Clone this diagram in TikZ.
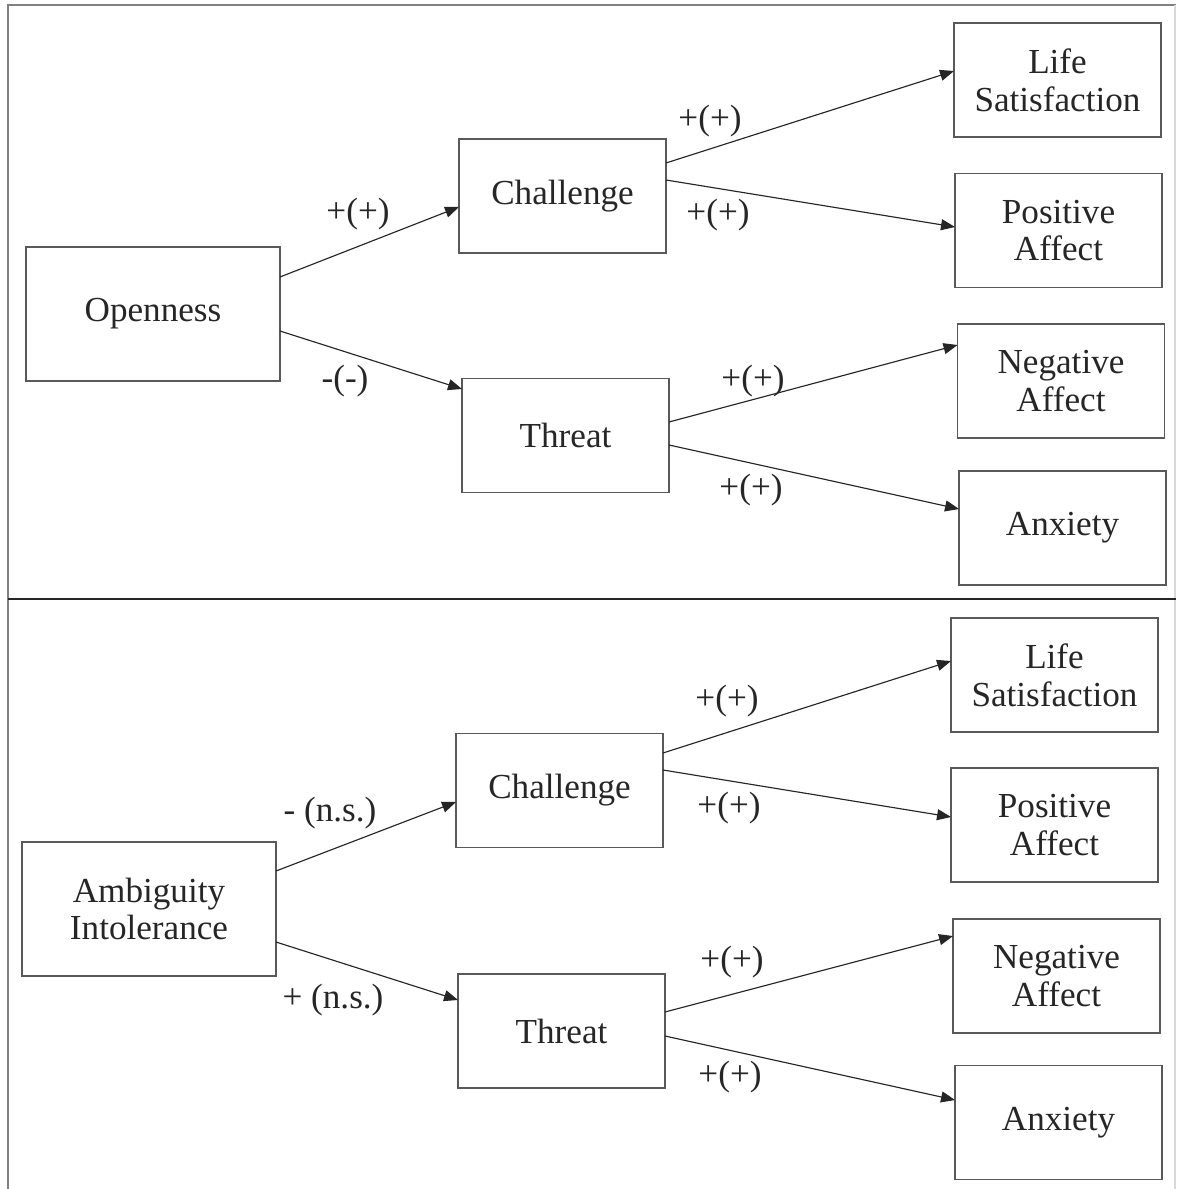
\documentclass[tikz,border=0pt]{standalone}
\usepackage{fontspec}
\setmainfont{Liberation Serif}
\usetikzlibrary{arrows.meta,calc}

\begin{document}
\begin{tikzpicture}[x=0.02cm, y=-0.02cm,
    box/.style={draw=black!65, line width=0.8pt, outer sep=0pt, inner sep=0pt,
        align=center, text=black!85, font=\fontsize{20}{21.5}\selectfont,
        minimum width=4.14cm, minimum height=2.28cm},
    source/.style={box, minimum width=5.08cm, minimum height=2.68cm},
    link/.style={draw=black!85, line width=0.65pt, -{Triangle[length=0.28cm, width=0.22cm]}},
    sign/.style={text=black!85, font=\fontsize{20}{21.5}\selectfont, inner sep=0pt}]

    \useasboundingbox (0,0) rectangle (1176,1189);
    \fill[white] (0,0) rectangle (1176,1189);

    % frame
    \draw[black!50, line width=1.2pt] (8,1189) -- (8,5) -- (1176,5);
    \draw[black!15, line width=0.8pt] (1175,5) -- (1175,1189);
    \draw[black!85, line width=0.7pt] (8,599) -- (1176,599);

    % upper panel
    \node[source] (open) at (153,314) {Openness};
    \node[box] (chalA) at (562.5,196) {Challenge};
    \node[box] (thrA) at (565.5,435.5) {Threat};
    \node[box] (lifeA) at (1057.5,80) {Life\\Satisfaction};
    \node[box] (posA) at (1058.5,230.5) {Positive\\Affect};
    \node[box] (negA) at (1061,381) {Negative\\Affect};
    \node[box] (anxA) at (1062.5,528) {Anxiety};

    \draw[link] ($(open.east)+(0,-37)$) -- ($(chalA.west)+(0,11)$);
    \draw[link] ($(open.east)+(0,17)$) -- ($(thrA.west)+(0,-46.5)$);
    \draw[link] ($(chalA.east)+(0,-33)$) -- ($(lifeA.west)+(0,-9)$);
    \draw[link] ($(chalA.east)+(0,-16)$) -- ($(posA.west)+(0,-3.5)$);
    \draw[link] ($(thrA.east)+(0,-13.5)$) -- ($(negA.west)+(0,-36)$);
    \draw[link] ($(thrA.east)+(0,9.5)$) -- ($(anxA.west)+(0,-19)$);

    \node[sign] (sA1) at (358,214) {+(+)};
    \node[sign] (sA2) at (345,381) {-(-)};
    \node[sign] (sA3) at (710,121) {+(+)};
    \node[sign] (sA4) at (718,215) {+(+)};
    \node[sign] (sA5) at (753,381) {+(+)};
    \node[sign] (sA6) at (751,490) {+(+)};

    % lower panel
    \node[source] (ambig) at (149,909) {Ambiguity\\Intolerance};
    \node[box] (chalB) at (559.5,790.5) {Challenge};
    \node[box] (thrB) at (561.5,1031) {Threat};
    \node[box] (lifeB) at (1054.5,675) {Life\\Satisfaction};
    \node[box] (posB) at (1054.5,825) {Positive\\Affect};
    \node[box] (negB) at (1056.5,976) {Negative\\Affect};
    \node[box] (anxB) at (1058.5,1122.5) {Anxiety};

    \draw[link] ($(ambig.east)+(0,-38)$) -- ($(chalB.west)+(0,11.5)$);
    \draw[link] ($(ambig.east)+(0,33)$) -- ($(thrB.west)+(0,-31)$);
    \draw[link] ($(chalB.east)+(0,-37.5)$) -- ($(lifeB.west)+(0,-14)$);
    \draw[link] ($(chalB.east)+(0,-20.5)$) -- ($(posB.west)+(0,-8)$);
    \draw[link] ($(thrB.east)+(0,-19)$) -- ($(negB.west)+(0,-40)$);
    \draw[link] ($(thrB.east)+(0,5)$) -- ($(anxB.west)+(0,-22.5)$);

    \node[sign] (sB1) at (330,813) {- (n.s.)};
    \node[sign] (sB2) at (333,1000) {+ (n.s.)};
    \node[sign] (sB3) at (727,701) {+(+)};
    \node[sign] (sB4) at (729,808) {+(+)};
    \node[sign] (sB5) at (732,962) {+(+)};
    \node[sign] (sB6) at (730,1077) {+(+)};

\end{tikzpicture}
\end{document}
